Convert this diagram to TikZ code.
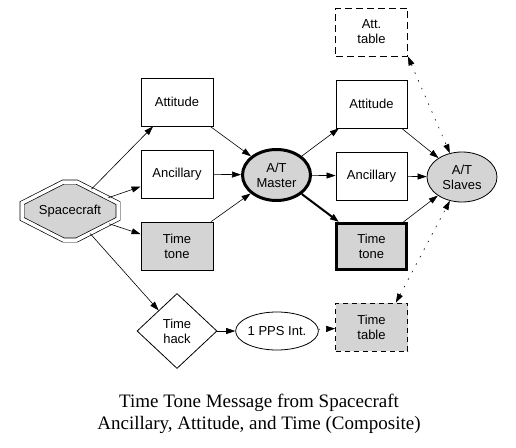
\documentclass[tikz,border=0pt]{standalone}
\usepackage{fontspec}
\setmainfont{Liberation Serif}
\newfontfamily\arialf{Liberation Sans}
\usetikzlibrary{shapes.geometric,shapes.misc,arrows.meta}
\definecolor{fillgray}{RGB}{212,212,212}
\begin{document}
\begin{tikzpicture}[x=1pt,y=-1pt,
  lbl/.style={font=\arialf\fontsize{13}{15}\selectfont, align=center},
  box/.style={lbl, draw, line width=0.8pt, minimum width=72pt, minimum height=48pt, inner sep=0pt},
  graybox/.style={box, fill=fillgray},
  thickbox/.style={box, fill=fillgray, line width=3pt, minimum width=70pt, minimum height=46pt},
  dashbox/.style={box, dash pattern=on 7pt off 4pt},
  dashgraybox/.style={box, fill=fillgray, dash pattern=on 5pt off 4pt},
  ell/.style={lbl, ellipse, draw, inner sep=0pt},
  arr/.style={-{Triangle[length=9pt,width=6pt]}, line width=0.6pt},
  biarr/.style={{Triangle[length=9pt,width=6pt]}-{Triangle[length=9pt,width=6pt]}, line width=0.6pt},
  dotline/.style={dash pattern=on 1.5pt off 7pt},
]
\useasboundingbox (0,0) rectangle (516,447);
\fill[white] (0,0) rectangle (516,447);

% nodes
\node[lbl, chamfered rectangle, chamfered rectangle angle=63, chamfered rectangle xsep=29pt, chamfered rectangle ysep=15pt,
      minimum width=96pt, minimum height=58pt, inner sep=0pt, draw, line width=0.7pt,
      double=white, double distance=3.5pt, fill=fillgray] (sc) at (70,211) {Spacecraft};

\node[box] (attL) at (177,102) {Attitude};
\node[box] (ancL) at (177,174) {Ancillary};
\node[graybox] (ttL) at (177,246) {Time\\tone};

\node[ell, line width=3pt, fill=fillgray, minimum width=68pt, minimum height=51pt] (master) at (276.5,175) {A/T\\Master};

\node[dashbox] (atttab) at (371.5,32) {Att.\\table};
\node[box, minimum width=71pt] (attR) at (371.5,104) {Attitude};
\node[box, minimum width=71pt] (ancR) at (371.5,176) {Ancillary};
\node[thickbox] (ttR) at (371.5,246.5) {Time\\tone};
\node[dashgraybox] (timetab) at (371.5,327) {Time\\table};

\node[ell, line width=0.8pt, fill=fillgray, minimum width=70pt, minimum height=50pt] (slaves) at (462,177) {A/T\\Slaves};

\node[lbl, diamond, draw, line width=0.8pt, minimum width=80pt, minimum height=75pt, inner sep=0pt] (hack) at (177,331) {Time\\hack};
\node[ell, line width=0.8pt, minimum width=79pt, minimum height=38pt] (pps) at (277,331) {1 PPS Int.};

\node[align=center, font=\fontsize{19}{21.5}\selectfont] (cap) at (259,414)
  {Time Tone Message from Spacecraft\\Ancillary, Attitude, and Time (Composite)};

% connectors
\draw[arr] (sc) -- (attL);
\draw[arr] (sc) -- (ancL);
\draw[arr] (sc) -- (ttL);
\draw[arr] (sc) -- (hack);

\draw[arr] (attL) -- (master);
\draw[arr] (ancL) -- (master);
\draw[arr] (ttL) -- (master);

\draw[arr] (master) -- (attR);
\draw[arr] (master) -- (ancR);
\draw[arr, line width=2pt] (master) -- (ttR);

\draw[arr] (attR) -- (slaves);
\draw[arr] (ancR) -- (slaves);
\draw[arr] (ttR) -- (slaves);

\draw[biarr, dotline] (atttab.south east) -- (slaves.117);
\draw[biarr, dotline] ([xshift=-12pt]timetab.north east) -- (slaves.243);

\draw[arr] (hack) -- (pps);
\draw[arr, dotline] (pps) -- (timetab);
\end{tikzpicture}
\end{document}
